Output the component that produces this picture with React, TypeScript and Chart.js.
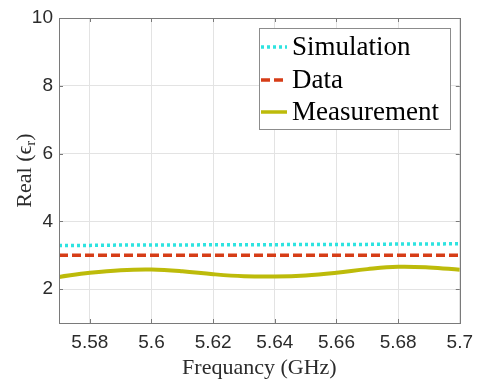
import React, { useEffect, useRef } from "react";
import { Chart, registerables } from "chart.js";

Chart.register(...registerables);

const frequencies = [5.57, 5.58, 5.59, 5.6, 5.61, 5.62, 5.63, 5.64, 5.65, 5.66, 5.67, 5.68, 5.69, 5.7];
const simulation = [3.29, 3.29, 3.3, 3.3, 3.3, 3.31, 3.31, 3.31, 3.32, 3.32, 3.32, 3.33, 3.33, 3.34];
const dataSeries = [3.0, 3.0, 3.0, 3.0, 3.0, 3.0, 3.0, 3.0, 3.0, 3.0, 3.0, 3.0, 3.0, 3.0];
const measurement = [2.36, 2.48, 2.56, 2.58, 2.53, 2.44, 2.38, 2.37, 2.4, 2.48, 2.59, 2.66, 2.64, 2.57];
const seriesLabels = ["Simulation", "Data", "Measurement"];
const xTickValues = [5.58, 5.6, 5.62, 5.64, 5.66, 5.68, 5.7];
const xTickLabels = ["5.58", "5.6", "5.62", "5.64", "5.66", "5.68", "5.7"];
const yTickValues = [2, 4, 6, 8, 10];
const yTickLabels = ["2", "4", "6", "8", "10"];
const xTitle = "Frequancy (GHz)";
const yTitleMain = "Real (\u03f5";
const yTitleSub = "r";
const yTitleEnd = ")";

const SERIF = "'Liberation Serif', 'Times New Roman', serif";
const SANS = "'Liberation Sans', Arial, Helvetica, sans-serif";
const AXIS_COLOR = "#7a7a7a";
const TEXT_COLOR = "#2b2b2b";

const frameAndTicksPlugin = {
  id: "frameAndTicks",
  afterDatasetsDraw(chart: any) {
    const { ctx, chartArea } = chart;
    const { left, right, top, bottom } = chartArea;
    const xs = chart.scales.x;
    const ys = chart.scales.y;
    ctx.save();
    ctx.strokeStyle = AXIS_COLOR;
    ctx.lineWidth = 1;
    ctx.beginPath();
    for (const v of xTickValues) {
      const px = Math.round(xs.getPixelForValue(v)) + 0.5;
      ctx.moveTo(px, bottom);
      ctx.lineTo(px, bottom - 4);
      ctx.moveTo(px, top);
      ctx.lineTo(px, top + 4);
    }
    for (const v of yTickValues) {
      const py = Math.round(ys.getPixelForValue(v)) + 0.5;
      ctx.moveTo(left, py);
      ctx.lineTo(left + 4, py);
      ctx.moveTo(right, py);
      ctx.lineTo(right - 4, py);
    }
    ctx.stroke();
    ctx.strokeRect(Math.round(left) + 0.5, Math.round(top) + 0.5, Math.round(right - left), Math.round(bottom - top));
    ctx.restore();
  },
  afterDraw(chart: any) {
    const { ctx, chartArea } = chart;
    ctx.save();
    const cy = (chartArea.top + chartArea.bottom) / 2;
    ctx.translate(25, cy);
    ctx.rotate(-Math.PI / 2);
    ctx.fillStyle = TEXT_COLOR;
    ctx.textBaseline = "middle";
    const mainFont = `22px ${SERIF}`;
    const subFont = `15px ${SERIF}`;
    ctx.font = mainFont;
    const w1 = ctx.measureText(yTitleMain).width;
    const w3 = ctx.measureText(yTitleEnd).width;
    ctx.font = subFont;
    const w2 = ctx.measureText(yTitleSub).width;
    const total = w1 + w2 + w3;
    let x = -total / 2;
    ctx.textAlign = "left";
    ctx.font = mainFont;
    ctx.fillText(yTitleMain, x, 0);
    x += w1;
    ctx.font = subFont;
    ctx.fillText(yTitleSub, x, 6);
    x += w2;
    ctx.font = mainFont;
    ctx.fillText(yTitleEnd, x, 0);
    ctx.restore();

    ctx.save();
    const bx = 259.5, by = 28.5, bw = 191, bh = 101;
    ctx.fillStyle = "#ffffff";
    ctx.fillRect(bx, by, bw, bh);
    ctx.strokeStyle = "#8c8c8c";
    ctx.lineWidth = 1;
    ctx.strokeRect(bx, by, bw, bh);
    const rowsY = [47, 80, 112];
    chart.data.datasets.forEach((ds: any, i: number) => {
      const y = rowsY[i];
      ctx.save();
      ctx.strokeStyle = ds.borderColor;
      ctx.lineWidth = Math.min(ds.borderWidth, 3.5);
      ctx.setLineDash(ds.borderDash || []);
      ctx.beginPath();
      ctx.moveTo(261, y);
      ctx.lineTo(287, y);
      ctx.stroke();
      ctx.restore();
      ctx.fillStyle = "#000000";
      ctx.font = `27px ${SERIF}`;
      ctx.textAlign = "left";
      ctx.textBaseline = "alphabetic";
      ctx.fillText(ds.label, 292, y + 8);
    });
    ctx.restore();
  },
};

export default function App() {
  const canvasRef = useRef<HTMLCanvasElement | null>(null);

  useEffect(() => {
    if (!canvasRef.current) return;
    const toPoints = (vals: number[]) => frequencies.map((f, i) => ({ x: f, y: vals[i] }));
    const chart = new Chart(canvasRef.current, {
      type: "line",
      data: {
        datasets: [
          {
            label: seriesLabels[0],
            data: toPoints(simulation),
            borderColor: "#2ee3e0",
            borderWidth: 3.5,
            borderDash: [3, 3],
            pointRadius: 0,
            tension: 0,
            fill: false,
          },
          {
            label: seriesLabels[1],
            data: toPoints(dataSeries),
            borderColor: "#d63d17",
            borderWidth: 3.5,
            borderDash: [9, 4],
            pointRadius: 0,
            tension: 0,
            fill: false,
          },
          {
            label: seriesLabels[2],
            data: toPoints(measurement),
            borderColor: "#bdbb0a",
            borderWidth: 4,
            pointRadius: 0,
            tension: 0.4,
            fill: false,
          },
        ],
      },
      options: {
        animation: false,
        responsive: false,
        maintainAspectRatio: false,
        layout: { padding: { top: 18, right: 16, left: 0, bottom: 0 } },
        plugins: {
          legend: { display: false },
          tooltip: { enabled: false },
          title: { display: false },
        },
        scales: {
          x: {
            type: "linear",
            min: 5.57,
            max: 5.7,
            afterBuildTicks: (scale: any) => {
              scale.ticks = xTickValues.map((v) => ({ value: v }));
            },
            afterFit: (scale: any) => {
              scale.height = 60;
            },
            ticks: {
              autoSkip: false,
              maxRotation: 0,
              padding: 8,
              color: TEXT_COLOR,
              font: { family: SANS, size: 19 },
              callback: (value: any) => {
                const idx = xTickValues.findIndex((v) => Math.abs(v - Number(value)) < 1e-9);
                return idx >= 0 ? xTickLabels[idx] : "";
              },
            },
            grid: { color: "#e3e3e3", drawTicks: false, lineWidth: 1 },
            border: { display: false },
            title: {
              display: true,
              text: xTitle,
              color: TEXT_COLOR,
              font: { family: SERIF, size: 22 },
              padding: { top: 0, bottom: 2 },
            },
          },
          y: {
            type: "linear",
            min: 1,
            max: 10,
            afterBuildTicks: (scale: any) => {
              scale.ticks = yTickValues.map((v) => ({ value: v }));
            },
            afterFit: (scale: any) => {
              scale.width = 59;
            },
            ticks: {
              autoSkip: false,
              padding: 6,
              color: TEXT_COLOR,
              font: { family: SANS, size: 19 },
              callback: (value: any) => {
                const idx = yTickValues.findIndex((v) => Math.abs(v - Number(value)) < 1e-9);
                return idx >= 0 ? yTickLabels[idx] : "";
              },
            },
            grid: { color: "#e3e3e3", drawTicks: false, lineWidth: 1 },
            border: { display: false },
          },
        },
      },
      plugins: [frameAndTicksPlugin],
    } as any);
    return () => chart.destroy();
  }, []);

  return (
    <div style={{ position: "absolute", left: 0, top: 0, width: 481, height: 383, background: "#ffffff" }}>
      <canvas ref={canvasRef} width={481} height={383} style={{ display: "block" }} />
    </div>
  );
}
